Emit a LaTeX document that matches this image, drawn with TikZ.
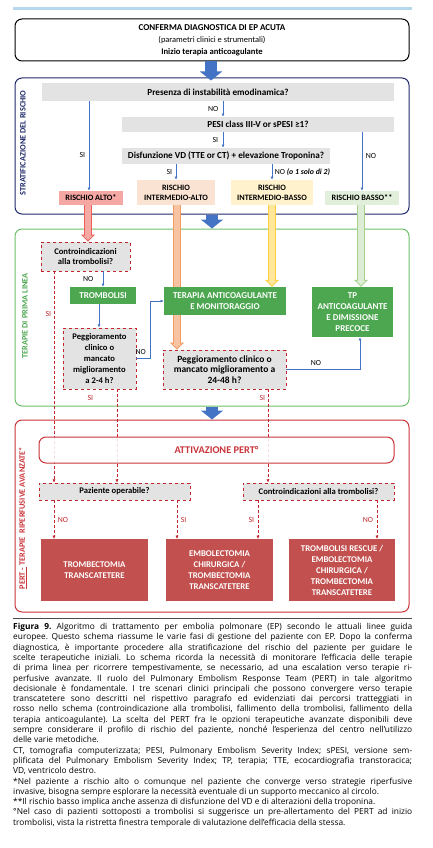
\documentclass[tikz,border=0pt]{standalone}
\usepackage{fontspec}
\setmainfont{Carlito}
\newfontfamily\capfont{Open Sans}
\usetikzlibrary{arrows.meta,positioning}
\definecolor{navy}{HTML}{202A6B}
\definecolor{frgreen}{HTML}{6DBE6A}
\definecolor{boxgreen}{HTML}{4DA750}
\definecolor{frred}{HTML}{C9343A}
\definecolor{dred}{HTML}{C0272D}
\definecolor{resred}{HTML}{C2504F}
\definecolor{bandgray}{HTML}{E3E3E3}
\definecolor{arrblue}{HTML}{4472C4}
\definecolor{topbar}{HTML}{B4D8EE}
\definecolor{altoF}{HTML}{F4A7A3}
\definecolor{intaltoF}{HTML}{FBE3D3}
\definecolor{intbassoF}{HTML}{FFF2CC}
\definecolor{bassoF}{HTML}{E2EFDA}
\definecolor{redL}{HTML}{F5A9A5}
\definecolor{redD}{HTML}{E8605A}
\definecolor{orL}{HTML}{F8C3A0}
\definecolor{orD}{HTML}{F19A62}
\definecolor{yeL}{HTML}{FFE699}
\definecolor{yeD}{HTML}{FFCF40}
\definecolor{grL}{HTML}{DDEDD5}
\definecolor{grD}{HTML}{A9D18E}
\newcommand\capline[1]{\makebox[399pt][s]{#1}}
\tikzset{
frame/.style={
  rectangle,
  rounded corners=7pt,
  line width=1pt,
  inner sep=0pt,
},
band/.style={
  fill=bandgray,
  inner sep=0pt,
  font=\bfseries\fontsize{9.2}{10}\selectfont,
},
risk/.style={
  inner sep=0pt,
  align=center,
  font=\bfseries\fontsize{8.2}{10}\selectfont,
},
qbox/.style={
  draw=dred,
  dashed,
  line width=0.9pt,
  fill=bandgray,
  inner sep=0pt,
  align=center,
  font=\bfseries\fontsize{8.6}{10.8}\selectfont,
},
gbox/.style={
  fill=boxgreen,
  text=white,
  inner sep=0pt,
  align=center,
  font=\bfseries\fontsize{9}{11}\selectfont,
},
rbox/.style={
  fill=resred,
  text=white,
  inner sep=0pt,
  align=center,
  font=\bfseries\fontsize{8.8}{11}\selectfont,
},
side/.style={
  rotate=90,
  font=\bfseries\fontsize{8.3}{9}\selectfont,
},
lbl/.style={
  font=\fontsize{7.8}{9}\selectfont,
  inner sep=1.5pt,
},
bl/.style={
  draw=arrblue,
  line width=0.6pt,
  -{Latex[length=3.2pt,width=3pt]},
},
rdashed/.style={
  draw=dred,
  line width=0.8pt,
  dash pattern=on 3pt off 2pt,
  -{Latex[length=3.2pt,width=3.2pt]},
},
fat/.style 2 args={
  draw=#2,
  line width=8pt,
  -{Triangle[length=7pt,width=14pt]},
  postaction={draw=#1, line width=6pt, shorten >=1.4pt,
    -{Triangle[length=4.6pt,width=9.4pt]}},
},
fatbar/.style 2 args={
  draw=#2,
  line width=8pt,
  postaction={draw=#1, line width=6pt},
},
bigarrow/.style={
  draw=arrblue,
  line width=12pt,
  -{Triangle[length=9pt,width=22pt]},
},
}

\begin{document}
\begin{tikzpicture}[x=1pt,y=-1pt]
\useasboundingbox (0,0) rectangle (433,848);
\fill[topbar] (13,7.5) rectangle (412,10.5);

% frames
\node[frame, draw=black, minimum width=394pt, minimum height=42pt, align=center] (top) at (212,40)
  {\bfseries\fontsize{9}{11.5}\selectfont CONFERMA DIAGNOSTICA DI EP ACUTA\\
   \mdseries\fontsize{8.4}{10}\selectfont (parametri clinici e strumentali)\\
   \bfseries\fontsize{8.6}{10}\selectfont Inizio terapia anticoagulante};
\node[frame, draw=navy, minimum width=394pt, minimum height=136pt] (strat) at (212,146) {};
\node[frame, draw=frgreen, minimum width=394pt, minimum height=177pt] (prima) at (212,317.5) {};
\node[frame, draw=frred, minimum width=394pt, minimum height=192pt] (pert) at (212,516) {};

\node[side, text=navy] (sstrat) at (23,143) {STRATIFICAZIONE DEL RISCHIO};
\node[side, text=boxgreen] (sprima) at (25,316) {TERAPIE DI PRIMA LINEA};
\node[side, text=frred] (spert) at (23,518) {\underline{PERT -} TERAPIE\ \ RIPERFUSIVE AVANZATE*};

\draw[bigarrow] (top.south -| 211,0) -- ([yshift=-3pt]strat.north -| 211,0);
\draw[bigarrow] (strat.south -| 212,0) -- (prima.north -| 212,0);
\draw[bigarrow] (prima.south -| 212,0) -- (pert.north -| 212,0);

% stratificazione
\node[band, minimum width=352pt, minimum height=18pt] (q1) at (218,92) {Presenza di instabilità emodinamica?};
\node[band, minimum width=272pt, minimum height=15pt] (q2) at (258,124.5) {PESI class III-V or sPESI ≥1?};
\node[band, minimum width=208pt, minimum height=16pt] (q3) at (226,156) {Disfunzione VD (TTE or CT) + elevazione Troponina?};

\node[risk, fill=altoF, minimum width=64pt, minimum height=14pt] (ralto) at (91,198) {RISCHIO ALTO*};
\node[risk, fill=intaltoF, minimum width=78pt, minimum height=25pt] (rintalto) at (176,192.5) {RISCHIO\\INTERMEDIO-ALTO};
\node[risk, fill=intbassoF, minimum width=82pt, minimum height=25pt] (rintbasso) at (272,192.5) {RISCHIO\\INTERMEDIO-BASSO};
\node[risk, fill=bassoF, minimum width=74pt, minimum height=14pt] (rbasso) at (362,198) {RISCHIO BASSO**};

\draw[bl] (q1.south -| 223,0) -- (q2.north -| 223,0) node[lbl, midway, left=3pt] {NO};
\draw[bl] (q2.south -| 223,0) -- (q3.north -| 223,0) node[lbl, midway, left=3pt] {SI};
\draw[bl] (q1.south -| 89,0) -- (ralto.north -| 89,0) node[lbl, pos=0.6, left=2pt] {SI};
\draw[bl] (q2.south -| 362,0) -- (rbasso.north) node[lbl, pos=0.4, right=2pt] {NO};
\draw[bl] (q3.south -| rintalto) -- (rintalto.north) node[lbl, midway, left=2pt] {SI};
\draw[bl] (q3.south -| rintbasso) -- (rintbasso.north) node[lbl, midway, right=1pt] {NO \textbf{\textit{(o 1 solo di 2)}}};

% prima linea
\node[qbox, minimum width=89pt, minimum height=29pt] (cti1) at (85.5,256.5) {Controindicazioni\\alla trombolisi?};
\node[gbox, minimum width=66pt, minimum height=17pt] (tromb) at (103,295.5) {TROMBOLISI};
\node[gbox, minimum width=122pt, minimum height=28pt] (tac) at (225,301) {TERAPIA ANTICOAGULANTE\\E MONITORAGGIO};
\node[gbox, minimum width=81pt, minimum height=50pt] (tpdim) at (352.5,312) {TP\\ANTICOAGULANTE\\E DIMISSIONE\\PRECOCE};
\node[qbox, minimum width=73pt, minimum height=61pt] (peg1) at (99.5,358.5) {Peggioramento\\clinico o\\mancato\\miglioramento\\a 2-4 h?};
\node[qbox, minimum width=123pt, minimum height=39pt, font=\bfseries\fontsize{9.5}{10.5}\selectfont] (peg2) at (224.5,369.5) {Peggioramento clinico o\\mancato miglioramento a\\24-48 h?};

\draw[fat={redL}{redD}] (ralto.south -| 88,0) -- (cti1.north -| 88,0);
\draw[fatbar={orL}{orD}] (rintalto.south -| 177,0) -- (tac.north -| 177,0);
\draw[fat={orL}{orD}] (tac.south -| 177,0) -- (peg2.north -| 177,0);
\draw[fat={yeL}{yeD}] (rintbasso.south) -- (tac.north -| rintbasso);
\draw[fat={grL}{grD}] (rbasso.south -| 361,0) -- (tpdim.north -| 361,0);

\draw[bl] (cti1.south -| 103,0) -- (tromb.north) node[lbl, midway, left=8pt] {NO};
\draw[bl] (tromb.south -| 99,0) -- (peg1.north -| 99,0);
\draw[bl] (peg1.east) -- ++(14,0) node[lbl, pos=0.3, above=2pt] {NO} |- (tac.west);
\draw[bl] (peg2.east) -| ([xshift=7.5pt]tpdim.south) node[lbl, pos=0.2, above=2pt] {NO};

% PERT
\node[qbox, minimum width=151pt, minimum height=17pt] (pazop) at (114.5,491.5) {Paziente operabile?};
\node[qbox, minimum width=151pt, minimum height=17pt] (cti2) at (318.5,491.5) {Controindicazioni alla trombolisi?};

\draw[rdashed] (cti1.south -| 54,0) -- (pazop.north -| 54,0) node[lbl, text=dred, pos=0.2, left=1pt] {SI};
\draw[rdashed] (peg1.south -| 117,0) -- (pazop.north -| 117,0) node[lbl, text=dred, pos=0.09, anchor=east, xshift=-22pt] {SI};
\draw[rdashed] (peg2.south -| 268,0) -- (cti2.north -| 268,0) node[lbl, text=dred, pos=0.09, left=1pt] {SI};

\node[frame, draw=frred, fill=white, fill opacity=0.85, text opacity=1, minimum width=355pt, minimum height=26pt,
  text=frred, font=\bfseries\fontsize{10.3}{12}\selectfont] (attiv) at (216.5,450) {ATTIVAZIONE PERT°};

\node[rbox, minimum width=107pt, minimum height=62pt] (res1) at (94.5,570) {TROMBECTOMIA\\TRANSCATETERE};
\node[rbox, minimum width=107pt, minimum height=62pt] (res2) at (219.5,570) {EMBOLECTOMIA\\CHIRURGICA /\\TROMBECTOMIA\\TRANSCATETERE};
\node[rbox, minimum width=106pt, minimum height=62pt] (res3) at (342,570) {TROMBOLISI RESCUE /\\EMBOLECTOMIA\\CHIRURGICA /\\TROMBECTOMIA\\TRANSCATETERE};

\draw[rdashed] (pazop.south -| 54,0) -- (res1.north -| 54,0) node[lbl, text=dred, midway, right=2pt] {NO};
\draw[rdashed] (pazop.south -| 177,0) -- (res2.north -| 177,0) node[lbl, text=dred, midway, right=2pt] {SI};
\draw[rdashed] (cti2.south -| 258,0) -- (res2.north -| 258,0) node[lbl, text=dred, midway, left=2pt] {SI};
\draw[rdashed] (cti2.south -| 377,0) -- (res3.north -| 377,0) node[lbl, text=dred, midway, left=2pt] {NO};

% didascalia
\draw[line width=0.6pt, black!70] (13,618) -- (412,618);
\node[anchor=north west, inner sep=0pt, align=left, font=\capfont\fontsize{8.35}{10.3}\selectfont\frenchspacing] (cap) at (13,623) {%
\capline{\textbf{Figura 9.} Algoritmo di trattamento per embolia polmonare (EP) secondo le attuali linee guida}\\
\capline{europee. Questo schema riassume le varie fasi di gestione del paziente con EP. Dopo la conferma}\\
\capline{diagnostica, è importante procedere alla stratificazione del rischio del paziente per guidare le}\\
\capline{scelte terapeutiche iniziali. Lo schema ricorda la necessità di monitorare l’efficacia delle terapie}\\
\capline{di prima linea per ricorrere tempestivamente, se necessario, ad una escalation verso terapie ri-}\\
\capline{perfusive avanzate. Il ruolo del Pulmonary Embolism Response Team (PERT) in tale algoritmo}\\
\capline{decisionale è fondamentale. I tre scenari clinici principali che possono convergere verso terapie}\\
\capline{transcatetere sono descritti nel rispettivo paragrafo ed evidenziati dai percorsi tratteggiati in}\\
\capline{rosso nello schema (controindicazione alla trombolisi, fallimento della trombolisi, fallimento della}\\
\capline{terapia anticoagulante). La scelta del PERT fra le opzioni terapeutiche avanzate disponibili deve}\\
\capline{sempre considerare il profilo di rischio del paziente, nonché l’esperienza del centro nell’utilizzo}\\
delle varie metodiche.\\
\capline{CT, tomografia computerizzata; PESI, Pulmonary Embolism Severity Index; sPESI, versione sem-}\\
\capline{plificata del Pulmonary Embolism Severity Index; TP, terapia; TTE, ecocardiografia transtoracica;}\\
VD, ventricolo destro.\\
\capline{*Nel paziente a rischio alto o comunque nel paziente che converge verso strategie riperfusive}\\
invasive, bisogna sempre esplorare la necessità eventuale di un supporto meccanico al circolo.\\
**Il rischio basso implica anche assenza di disfunzione del VD e di alterazioni della troponina.\\
\capline{°Nel caso di pazienti sottoposti a trombolisi si suggerisce un pre-allertamento del PERT ad inizio}\\
trombolisi, vista la ristretta finestra temporale di valutazione dell’efficacia della stessa.};
\end{tikzpicture}
\end{document}
